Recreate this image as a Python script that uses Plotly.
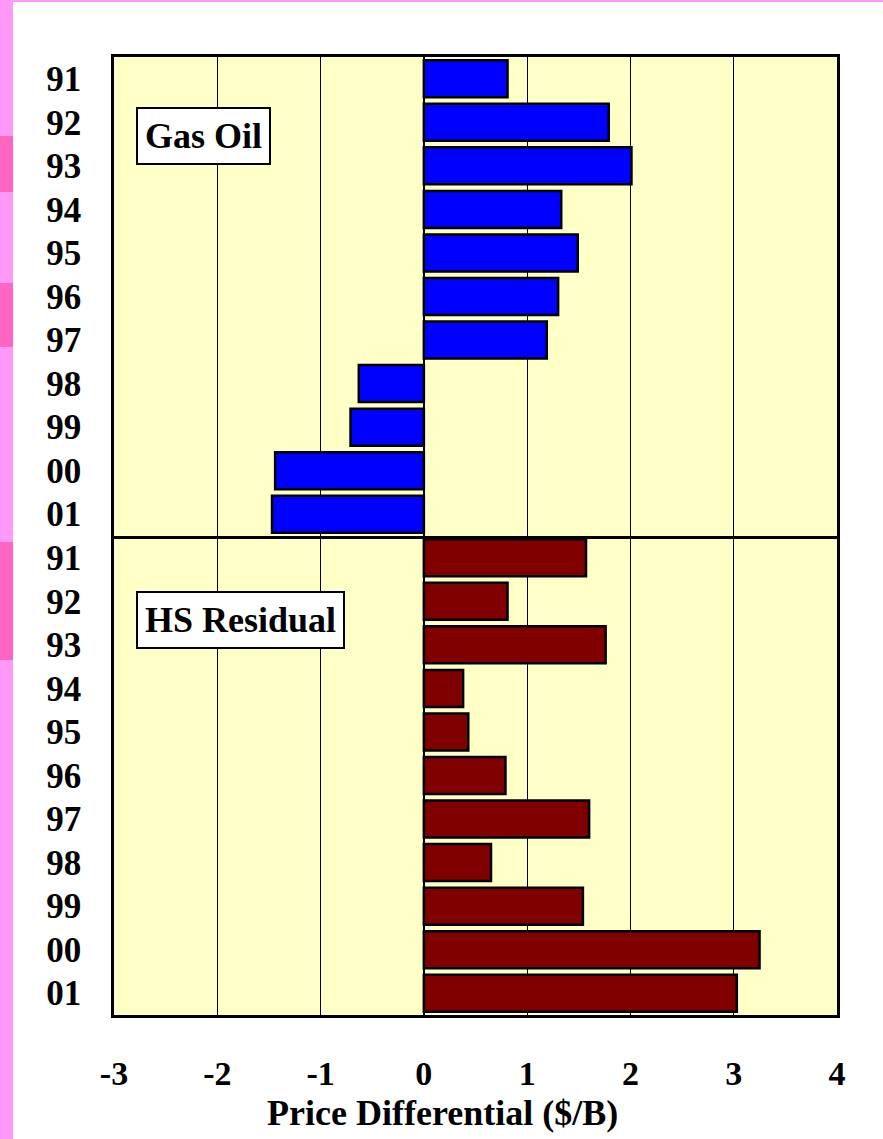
import plotly.graph_objects as go
from plotly.subplots import make_subplots

years = ["91", "92", "93", "94", "95", "96", "97", "98", "99", "00", "01"]
gas_oil = [0.81, 1.79, 2.01, 1.33, 1.49, 1.30, 1.19, -0.63, -0.71, -1.44, -1.47]
hs_residual = [1.57, 0.81, 1.76, 0.38, 0.43, 0.79, 1.60, 0.65, 1.54, 3.25, 3.03]
x_ticks = [-3, -2, -1, 0, 1, 2, 3, 4]
x_tick_labels = ["-3", "-2", "-1", "0", "1", "2", "3", "4"]

FONT = "Times New Roman, Liberation Serif, serif"
W, H = 883, 1139
ML, MR, MT, MB = 114, 46, 57, 124
PW, PH = W - ML - MR, H - MT - MB


def px_x(p):
    return (p - ML) / PW


def px_y(p):
    return (H - MB - p) / PH


fig = make_subplots(rows=2, cols=1, shared_xaxes=True, vertical_spacing=0)

fig.add_trace(go.Bar(y=years, x=gas_oil, orientation="h",
                     marker=dict(color="#0000FF", line=dict(color="black", width=2.5)),
                     showlegend=False), row=1, col=1)
fig.add_trace(go.Bar(y=years, x=hs_residual, orientation="h",
                     marker=dict(color="#800000", line=dict(color="black", width=2.5)),
                     showlegend=False), row=2, col=1)

xcommon = dict(range=[-3, 4], tickvals=x_ticks, ticktext=x_tick_labels,
               showgrid=True, gridcolor="black", gridwidth=1,
               zeroline=True, zerolinecolor="black", zerolinewidth=1.5,
               showline=True, linecolor="black", linewidth=2.5,
               fixedrange=True)
fig.update_xaxes(**xcommon)
fig.update_xaxes(showticklabels=False, mirror=True, row=1, col=1)
fig.update_xaxes(showticklabels=True, mirror=False, ticks="", ticklabelstandoff=26,
                 tickfont=dict(family=FONT, size=34, color="black", weight="bold"),
                 row=2, col=1)

ycommon = dict(type="category", categoryorder="array", categoryarray=years,
               autorange="reversed", showgrid=False, zeroline=False,
               showline=True, linecolor="black", linewidth=2.5, mirror=True,
               ticks="", ticklabelstandoff=23,
               tickfont=dict(family=FONT, size=35, color="black", weight="bold"))
fig.update_yaxes(**ycommon)

annotations = [
    dict(text="Gas Oil", xref="x domain", yref="y domain", x=px_x(136), y=0.836,
         xanchor="left", yanchor="middle", showarrow=False,
         font=dict(family=FONT, size=36, color="black", weight="bold"),
         bgcolor="white", bordercolor="black", borderwidth=2, borderpad=7),
    dict(text="HS Residual", xref="x2 domain", yref="y2 domain", x=px_x(136), y=0.824,
         xanchor="left", yanchor="middle", showarrow=False,
         font=dict(family=FONT, size=36, color="black", weight="bold"),
         bgcolor="white", bordercolor="black", borderwidth=2, borderpad=7),
    dict(text="Price Differential ($/B)", xref="paper", yref="paper",
         x=px_x(442), y=px_y(1113), xanchor="center", yanchor="middle", showarrow=False,
         font=dict(family=FONT, size=36, color="black", weight="bold")),
]

light_pink = "#FF99F7"
dark_pink = "#FF66C2"
shapes = [
    dict(type="rect", xref="paper", yref="paper", x0=px_x(0), x1=px_x(13),
         y0=px_y(H), y1=px_y(0), fillcolor=light_pink, line=dict(width=0), layer="below"),
    dict(type="rect", xref="paper", yref="paper", x0=px_x(0), x1=px_x(W),
         y0=px_y(2), y1=px_y(0), fillcolor=light_pink, line=dict(width=0), layer="below"),
]
for a, b in [(136, 192), (283, 347), (542, 660)]:
    shapes.append(dict(type="rect", xref="paper", yref="paper", x0=px_x(0), x1=px_x(13),
                       y0=px_y(b), y1=px_y(a), fillcolor=dark_pink, line=dict(width=0),
                       layer="below"))

fig.update_layout(
    width=W, height=H,
    margin=dict(l=ML, r=MR, t=MT, b=MB),
    paper_bgcolor="white", plot_bgcolor="#FFFFC8",
    bargap=0.15,
    annotations=annotations, shapes=shapes,
    font=dict(family=FONT, color="black"),
)

fig.write_html("out.html")
